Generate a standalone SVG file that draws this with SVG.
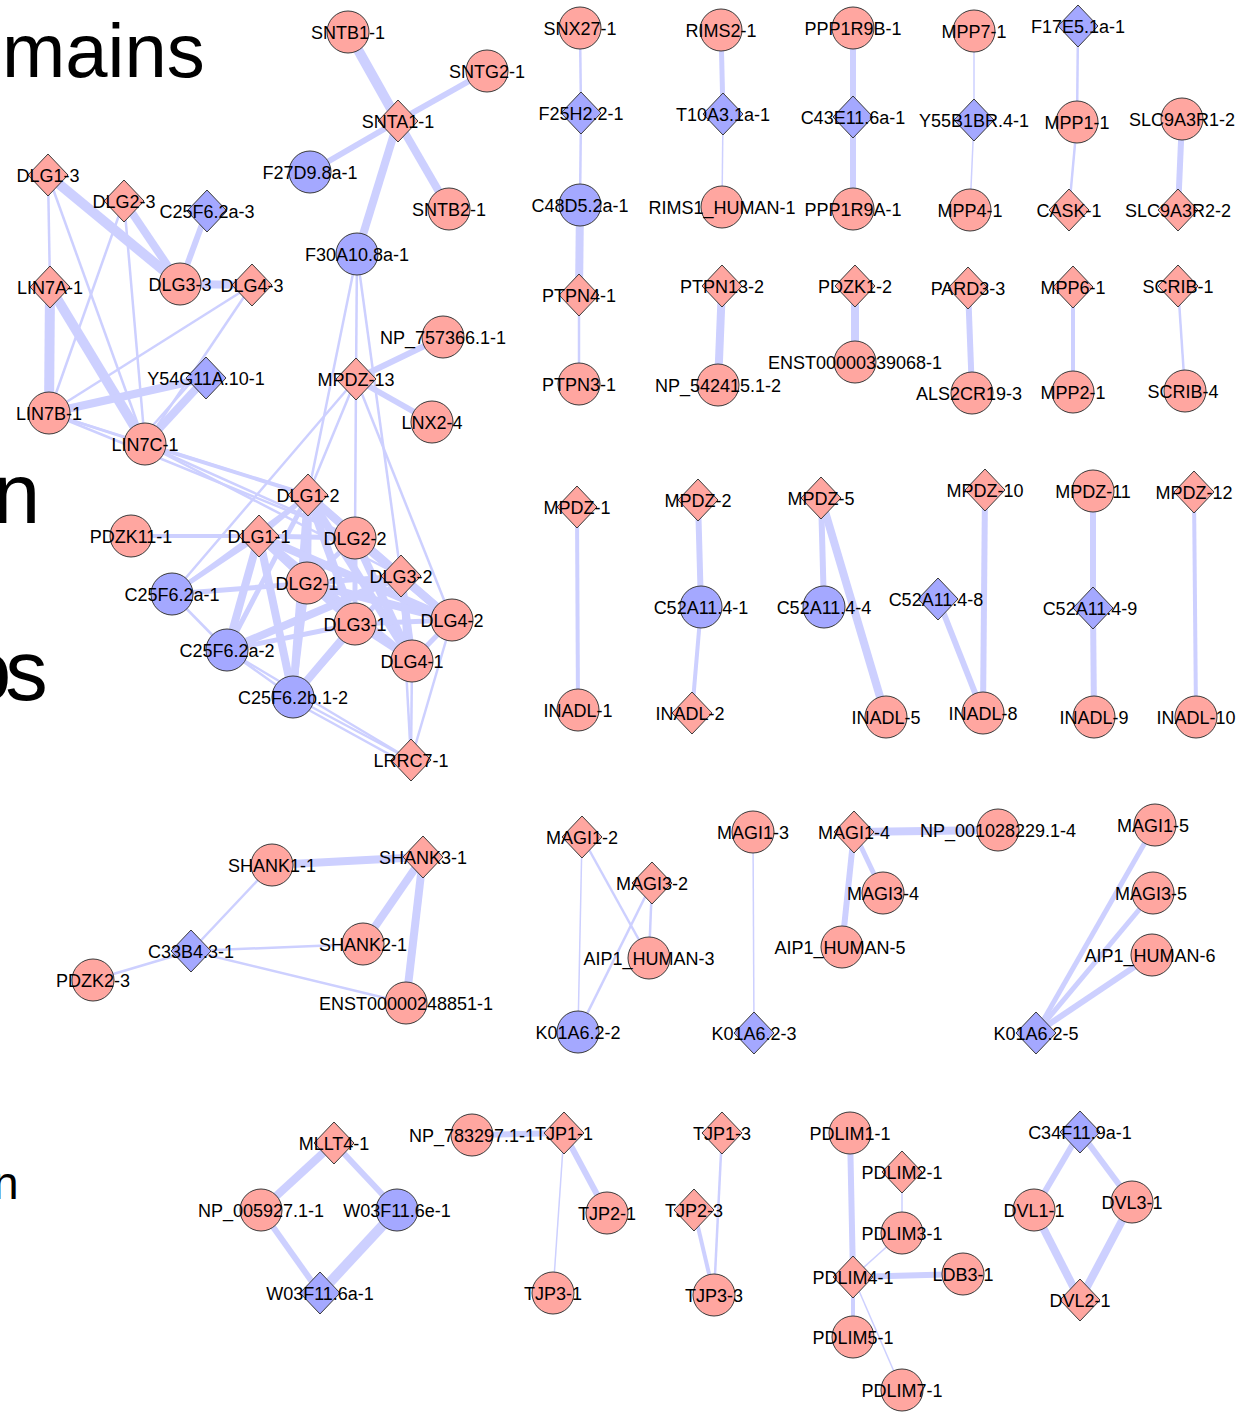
<svg xmlns="http://www.w3.org/2000/svg" xmlns:xlink="http://www.w3.org/1999/xlink" width="1247" height="1413" viewBox="0 0 1247 1413">
<style>
.e line{stroke:#CDD0FF;stroke-linecap:butt;fill:none}
.w1{stroke-width:1.5}.w2{stroke-width:2.5}.w4{stroke-width:4}.w5{stroke-width:5}.w6{stroke-width:6}.w8{stroke-width:8}.w10{stroke-width:10}
.p{fill:#FFA6A0;stroke:#3a3a3a;stroke-width:1}
.b{fill:#A4A8FF;stroke:#3a3a3a;stroke-width:1}
.n text{font-family:"Liberation Sans",Arial,sans-serif;font-size:18px;fill:#000;text-anchor:middle}
.big{font-family:"Liberation Sans",Arial,sans-serif;fill:#000}
</style>
<defs>
<circle id="ci" cx="0" cy="0" r="21"/>
<path id="dm" d="M0,-21 L20,0 L0,21 L-20,0Z"/>
</defs>
<rect width="1247" height="1413" fill="#fff"/>
<text class="big" x="2" y="77" font-size="76">mains</text>
<text class="big" x="-7" y="523" font-size="85">n</text>
<text class="big" x="-36" y="700" font-size="85" letter-spacing="-6">os</text>
<text class="big" x="-7" y="1199" font-size="46">n</text>
<g id="connectors" class="e">
<!-- top-left cluster -->
<line class="w10" x1="348" y1="32" x2="398" y2="121"/>
<line class="w6" x1="487" y1="71" x2="398" y2="121"/>
<line class="w6" x1="398" y1="121" x2="310" y2="172"/>
<line class="w8" x1="398" y1="121" x2="449" y2="209"/>
<line class="w8" x1="398" y1="121" x2="357" y2="254"/>
<line class="w2" x1="357" y1="254" x2="356" y2="379"/>
<line class="w2" x1="357" y1="254" x2="308" y2="495"/>
<line class="w2" x1="357" y1="254" x2="401" y2="576"/>
<line class="w6" x1="356" y1="379" x2="443" y2="337"/>
<line class="w6" x1="356" y1="379" x2="432" y2="422"/>
<line class="w2" x1="356" y1="379" x2="355" y2="538"/>
<line class="w2" x1="356" y1="379" x2="172" y2="594"/>
<line class="w2" x1="356" y1="379" x2="452" y2="620"/>
<line class="w2" x1="356" y1="379" x2="308" y2="495"/>
<line class="w2" x1="48" y1="175" x2="50" y2="287"/>
<line class="w10" x1="48" y1="175" x2="180" y2="284"/>
<line class="w2" x1="48" y1="175" x2="145" y2="444"/>
<line class="w8" x1="124" y1="201" x2="180" y2="284"/>
<line class="w2" x1="124" y1="201" x2="49" y2="413"/>
<line class="w2" x1="124" y1="201" x2="145" y2="444"/>
<line class="w6" x1="207" y1="211" x2="180" y2="284"/>
<line class="w8" x1="180" y1="284" x2="252" y2="285"/>
<line class="w2" x1="252" y1="285" x2="49" y2="413"/>
<line class="w2" x1="252" y1="285" x2="145" y2="444"/>
<line class="w10" x1="50" y1="287" x2="49" y2="413"/>
<line class="w10" x1="50" y1="287" x2="145" y2="444"/>
<line class="w8" x1="206" y1="378" x2="49" y2="413"/>
<line class="w8" x1="206" y1="378" x2="145" y2="444"/>
<line class="w2" x1="200" y1="372" x2="140" y2="440"/>
<line class="w2" x1="49" y1="413" x2="145" y2="444"/>
<line class="w4" x1="145" y1="444" x2="308" y2="495"/>
<line class="w2" x1="145" y1="444" x2="355" y2="538"/>
<line class="w2" x1="145" y1="444" x2="401" y2="576"/>
<line class="w2" x1="49" y1="413" x2="308" y2="495"/>
<line class="w2" x1="49" y1="413" x2="355" y2="538"/>
<!-- DLG cluster -->
<line class="w4" x1="131" y1="536" x2="259" y2="536"/>
<line class="w8" x1="308" y1="495" x2="307" y2="583"/>
<line class="w8" x1="308" y1="495" x2="355" y2="624"/>
<line class="w8" x1="308" y1="495" x2="401" y2="576"/>
<line class="w8" x1="308" y1="495" x2="412" y2="661"/>
<line class="w8" x1="259" y1="536" x2="227" y2="650"/>
<line class="w8" x1="259" y1="536" x2="293" y2="697"/>
<line class="w8" x1="259" y1="536" x2="355" y2="624"/>
<line class="w8" x1="259" y1="536" x2="412" y2="661"/>
<line class="w8" x1="307" y1="583" x2="452" y2="620"/>
<line class="w8" x1="355" y1="538" x2="412" y2="661"/>
<line class="w8" x1="355" y1="538" x2="452" y2="620"/>
<line class="w8" x1="355" y1="624" x2="293" y2="697"/>
<line class="w8" x1="227" y1="650" x2="401" y2="576"/>
<line class="w8" x1="401" y1="576" x2="412" y2="661"/>
<line class="w8" x1="401" y1="576" x2="452" y2="620"/>
<line class="w8" x1="308" y1="495" x2="293" y2="697"/>
<line class="w8" x1="259" y1="536" x2="452" y2="620"/>
<line class="w8" x1="308" y1="495" x2="452" y2="620"/>
<line class="w5" x1="259" y1="536" x2="172" y2="594"/>
<line class="w5" x1="172" y1="594" x2="401" y2="576"/>
<line class="w5" x1="259" y1="536" x2="308" y2="495"/>
<line class="w5" x1="259" y1="536" x2="355" y2="538"/>
<line class="w5" x1="308" y1="495" x2="355" y2="538"/>
<line class="w5" x1="307" y1="583" x2="412" y2="661"/>
<line class="w5" x1="307" y1="583" x2="355" y2="624"/>
<line class="w5" x1="355" y1="624" x2="452" y2="620"/>
<line class="w5" x1="355" y1="624" x2="412" y2="661"/>
<line class="w5" x1="412" y1="661" x2="452" y2="620"/>
<line class="w5" x1="355" y1="538" x2="401" y2="576"/>
<line class="w5" x1="293" y1="697" x2="401" y2="576"/>
<line class="w5" x1="259" y1="536" x2="307" y2="583"/>
<line class="w5" x1="307" y1="583" x2="355" y2="538"/>
<line class="w5" x1="308" y1="495" x2="227" y2="650"/>
<line class="w5" x1="355" y1="538" x2="355" y2="624"/>
<line class="w5" x1="227" y1="650" x2="355" y2="624"/>
<line class="w5" x1="293" y1="697" x2="307" y2="583"/>
<line class="w2" x1="172" y1="594" x2="308" y2="495"/>
<line class="w2" x1="172" y1="594" x2="227" y2="650"/>
<line class="w2" x1="227" y1="650" x2="293" y2="697"/>
<line class="w2" x1="227" y1="650" x2="411" y2="760"/>
<line class="w2" x1="293" y1="697" x2="411" y2="760"/>
<line class="w2" x1="296" y1="703" x2="407" y2="764"/>
<line class="w2" x1="401" y1="576" x2="411" y2="760"/>
<line class="w2" x1="452" y1="620" x2="411" y2="760"/>
<line class="w2" x1="412" y1="661" x2="411" y2="760"/>
<!-- top right columns -->
<line class="w2" x1="580" y1="28" x2="581" y2="113"/>
<line class="w2" x1="581" y1="113" x2="580" y2="205"/>
<line class="w8" x1="580" y1="205" x2="579" y2="295"/>
<line class="w2" x1="579" y1="295" x2="579" y2="384"/>
<line class="w5" x1="721" y1="30" x2="723" y2="114"/>
<line class="w1" x1="723" y1="114" x2="722" y2="207"/>
<line class="w6" x1="853" y1="28" x2="853" y2="117"/>
<line class="w6" x1="853" y1="117" x2="853" y2="209"/>
<line class="w1" x1="974" y1="31" x2="974" y2="120"/>
<line class="w1" x1="974" y1="120" x2="970" y2="210"/>
<line class="w2" x1="1078" y1="26" x2="1077" y2="122"/>
<line class="w2" x1="1077" y1="122" x2="1069" y2="210"/>
<line class="w6" x1="1182" y1="119" x2="1178" y2="210"/>
<line class="w8" x1="722" y1="286" x2="718" y2="385"/>
<line class="w8" x1="855" y1="286" x2="855" y2="362"/>
<line class="w6" x1="968" y1="288" x2="972" y2="393"/>
<line class="w4" x1="1073" y1="287" x2="1073" y2="392"/>
<line class="w2" x1="1178" y1="286" x2="1185" y2="391"/>
<!-- MPDZ / INADL -->
<line class="w4" x1="577" y1="507" x2="578" y2="710"/>
<line class="w6" x1="698" y1="500" x2="701" y2="607"/>
<line class="w4" x1="701" y1="607" x2="692" y2="713"/>
<line class="w6" x1="821" y1="498" x2="824" y2="607"/>
<line class="w8" x1="821" y1="498" x2="886" y2="717"/>
<line class="w6" x1="938" y1="599" x2="983" y2="713"/>
<line class="w6" x1="985" y1="490" x2="983" y2="713"/>
<line class="w6" x1="1093" y1="491" x2="1093" y2="608"/>
<line class="w6" x1="1093" y1="608" x2="1094" y2="717"/>
<line class="w4" x1="1194" y1="492" x2="1196" y2="717"/>
<!-- SHANK -->
<line class="w8" x1="272" y1="865" x2="423" y2="857"/>
<line class="w8" x1="423" y1="857" x2="363" y2="944"/>
<line class="w8" x1="423" y1="857" x2="406" y2="1003"/>
<line class="w2" x1="191" y1="951" x2="272" y2="865"/>
<line class="w2" x1="191" y1="951" x2="363" y2="944"/>
<line class="w2" x1="191" y1="951" x2="406" y2="1003"/>
<line class="w2" x1="191" y1="951" x2="93" y2="980"/>
<!-- MAGI -->
<line class="w1" x1="582" y1="837" x2="578" y2="1032"/>
<line class="w2" x1="582" y1="837" x2="649" y2="958"/>
<line class="w2" x1="652" y1="883" x2="649" y2="958"/>
<line class="w2" x1="652" y1="883" x2="578" y2="1032"/>
<line class="w1" x1="753" y1="832" x2="754" y2="1033"/>
<line class="w8" x1="854" y1="832" x2="998" y2="830"/>
<line class="w5" x1="854" y1="832" x2="883" y2="893"/>
<line class="w6" x1="854" y1="832" x2="842" y2="947"/>
<line class="w5" x1="1036" y1="1033" x2="1155" y2="825"/>
<line class="w5" x1="1036" y1="1033" x2="1153" y2="893"/>
<line class="w6" x1="1036" y1="1033" x2="1152" y2="955"/>
<!-- bottom -->
<line class="w8" x1="334" y1="1143" x2="261" y2="1210"/>
<line class="w6" x1="334" y1="1143" x2="397" y2="1210"/>
<line class="w6" x1="261" y1="1210" x2="320" y2="1293"/>
<line class="w10" x1="397" y1="1210" x2="320" y2="1293"/>
<line class="w6" x1="472" y1="1135" x2="564" y2="1133"/>
<line class="w6" x1="564" y1="1133" x2="607" y2="1213"/>
<line class="w1" x1="564" y1="1133" x2="553" y2="1293"/>
<line class="w2" x1="722" y1="1133" x2="714" y2="1295"/>
<line class="w4" x1="694" y1="1210" x2="714" y2="1295"/>
<line class="w6" x1="850" y1="1133" x2="853" y2="1277"/>
<line class="w1" x1="902" y1="1172" x2="902" y2="1233"/>
<line class="w1" x1="902" y1="1233" x2="853" y2="1277"/>
<line class="w6" x1="853" y1="1277" x2="963" y2="1274"/>
<line class="w4" x1="853" y1="1277" x2="853" y2="1337"/>
<line class="w1" x1="853" y1="1277" x2="902" y2="1390"/>
<line class="w6" x1="1080" y1="1132" x2="1034" y2="1210"/>
<line class="w6" x1="1080" y1="1132" x2="1132" y2="1202"/>
<line class="w8" x1="1034" y1="1210" x2="1080" y2="1300"/>
<line class="w8" x1="1132" y1="1202" x2="1080" y2="1300"/>
</g>
<g id="nodes" class="n">
<g id="SNTB1-1"><use href="#ci" x="348" y="32" class="p"/><text x="348" y="39">SNTB1-1</text></g>
<g id="SNTG2-1"><use href="#ci" x="487" y="71" class="p"/><text x="487" y="78">SNTG2-1</text></g>
<g id="SNTA1-1"><use href="#dm" x="398" y="121" class="p"/><text x="398" y="128">SNTA1-1</text></g>
<g id="F27D9.8a-1"><use href="#ci" x="310" y="172" class="b"/><text x="310" y="179">F27D9.8a-1</text></g>
<g id="SNTB2-1"><use href="#ci" x="449" y="209" class="p"/><text x="449" y="216">SNTB2-1</text></g>
<g id="F30A10.8a-1"><use href="#ci" x="357" y="254" class="b"/><text x="357" y="261">F30A10.8a-1</text></g>
<g id="NP_757366.1-1"><use href="#ci" x="443" y="337" class="p"/><text x="443" y="344">NP_757366.1-1</text></g>
<g id="MPDZ-13"><use href="#dm" x="356" y="379" class="p"/><text x="356" y="386">MPDZ-13</text></g>
<g id="LNX2-4"><use href="#ci" x="432" y="422" class="p"/><text x="432" y="429">LNX2-4</text></g>
<g id="DLG1-3"><use href="#dm" x="48" y="175" class="p"/><text x="48" y="182">DLG1-3</text></g>
<g id="DLG2-3"><use href="#dm" x="124" y="201" class="p"/><text x="124" y="208">DLG2-3</text></g>
<g id="C25F6.2a-3"><use href="#dm" x="207" y="211" class="b"/><text x="207" y="218">C25F6.2a-3</text></g>
<g id="DLG3-3"><use href="#ci" x="180" y="284" class="p"/><text x="180" y="291">DLG3-3</text></g>
<g id="DLG4-3"><use href="#dm" x="252" y="285" class="p"/><text x="252" y="292">DLG4-3</text></g>
<g id="LIN7A-1"><use href="#dm" x="50" y="287" class="p"/><text x="50" y="294">LIN7A-1</text></g>
<g id="Y54G11A.10-1"><use href="#dm" x="206" y="378" class="b"/><text x="206" y="385">Y54G11A.10-1</text></g>
<g id="LIN7B-1"><use href="#ci" x="49" y="413" class="p"/><text x="49" y="420">LIN7B-1</text></g>
<g id="LIN7C-1"><use href="#ci" x="145" y="444" class="p"/><text x="145" y="451">LIN7C-1</text></g>
<g id="DLG1-2"><use href="#dm" x="308" y="495" class="p"/><text x="308" y="502">DLG1-2</text></g>
<g id="PDZK11-1"><use href="#ci" x="131" y="536" class="p"/><text x="131" y="543">PDZK11-1</text></g>
<g id="DLG1-1"><use href="#dm" x="259" y="536" class="p"/><text x="259" y="543">DLG1-1</text></g>
<g id="DLG2-2"><use href="#ci" x="355" y="538" class="p"/><text x="355" y="545">DLG2-2</text></g>
<g id="DLG3-2"><use href="#dm" x="401" y="576" class="p"/><text x="401" y="583">DLG3-2</text></g>
<g id="DLG2-1"><use href="#ci" x="307" y="583" class="p"/><text x="307" y="590">DLG2-1</text></g>
<g id="C25F6.2a-1"><use href="#ci" x="172" y="594" class="b"/><text x="172" y="601">C25F6.2a-1</text></g>
<g id="DLG3-1"><use href="#ci" x="355" y="624" class="p"/><text x="355" y="631">DLG3-1</text></g>
<g id="DLG4-2"><use href="#ci" x="452" y="620" class="p"/><text x="452" y="627">DLG4-2</text></g>
<g id="C25F6.2a-2"><use href="#ci" x="227" y="650" class="b"/><text x="227" y="657">C25F6.2a-2</text></g>
<g id="DLG4-1"><use href="#ci" x="412" y="661" class="p"/><text x="412" y="668">DLG4-1</text></g>
<g id="C25F6.2b.1-2"><use href="#ci" x="293" y="697" class="b"/><text x="293" y="704">C25F6.2b.1-2</text></g>
<g id="LRRC7-1"><use href="#dm" x="411" y="760" class="p"/><text x="411" y="767">LRRC7-1</text></g>
<g id="SNX27-1"><use href="#ci" x="580" y="28" class="p"/><text x="580" y="35">SNX27-1</text></g>
<g id="F25H2.2-1"><use href="#dm" x="581" y="113" class="b"/><text x="581" y="120">F25H2.2-1</text></g>
<g id="C48D5.2a-1"><use href="#ci" x="580" y="205" class="b"/><text x="580" y="212">C48D5.2a-1</text></g>
<g id="PTPN4-1"><use href="#dm" x="579" y="295" class="p"/><text x="579" y="302">PTPN4-1</text></g>
<g id="PTPN3-1"><use href="#ci" x="579" y="384" class="p"/><text x="579" y="391">PTPN3-1</text></g>
<g id="RIMS2-1"><use href="#ci" x="721" y="30" class="p"/><text x="721" y="37">RIMS2-1</text></g>
<g id="T10A3.1a-1"><use href="#dm" x="723" y="114" class="b"/><text x="723" y="121">T10A3.1a-1</text></g>
<g id="RIMS1_HUMAN-1"><use href="#ci" x="722" y="207" class="p"/><text x="722" y="214">RIMS1_HUMAN-1</text></g>
<g id="PTPN13-2"><use href="#dm" x="722" y="286" class="p"/><text x="722" y="293">PTPN13-2</text></g>
<g id="NP_542415.1-2"><use href="#ci" x="718" y="385" class="p"/><text x="718" y="392">NP_542415.1-2</text></g>
<g id="PPP1R9B-1"><use href="#ci" x="853" y="28" class="p"/><text x="853" y="35">PPP1R9B-1</text></g>
<g id="C43E11.6a-1"><use href="#dm" x="853" y="117" class="b"/><text x="853" y="124">C43E11.6a-1</text></g>
<g id="PPP1R9A-1"><use href="#ci" x="853" y="209" class="p"/><text x="853" y="216">PPP1R9A-1</text></g>
<g id="PDZK1-2"><use href="#dm" x="855" y="286" class="p"/><text x="855" y="293">PDZK1-2</text></g>
<g id="ENST00000339068-1"><use href="#ci" x="855" y="362" class="p"/><text x="855" y="369">ENST00000339068-1</text></g>
<g id="MPP7-1"><use href="#ci" x="974" y="31" class="p"/><text x="974" y="38">MPP7-1</text></g>
<g id="Y55B1BR.4-1"><use href="#dm" x="974" y="120" class="b"/><text x="974" y="127">Y55B1BR.4-1</text></g>
<g id="MPP4-1"><use href="#ci" x="970" y="210" class="p"/><text x="970" y="217">MPP4-1</text></g>
<g id="PARD3-3"><use href="#dm" x="968" y="288" class="p"/><text x="968" y="295">PARD3-3</text></g>
<g id="ALS2CR19-3"><use href="#ci" x="972" y="393" class="p"/><text x="969" y="400">ALS2CR19-3</text></g>
<g id="F17E5.1a-1"><use href="#dm" x="1078" y="26" class="b"/><text x="1078" y="33">F17E5.1a-1</text></g>
<g id="MPP1-1"><use href="#ci" x="1077" y="122" class="p"/><text x="1077" y="129">MPP1-1</text></g>
<g id="CASK-1"><use href="#dm" x="1069" y="210" class="p"/><text x="1069" y="217">CASK-1</text></g>
<g id="MPP6-1"><use href="#dm" x="1073" y="287" class="p"/><text x="1073" y="294">MPP6-1</text></g>
<g id="MPP2-1"><use href="#ci" x="1073" y="392" class="p"/><text x="1073" y="399">MPP2-1</text></g>
<g id="SLC9A3R1-2"><use href="#ci" x="1182" y="119" class="p"/><text x="1182" y="126">SLC9A3R1-2</text></g>
<g id="SLC9A3R2-2"><use href="#dm" x="1178" y="210" class="p"/><text x="1178" y="217">SLC9A3R2-2</text></g>
<g id="SCRIB-1"><use href="#dm" x="1178" y="286" class="p"/><text x="1178" y="293">SCRIB-1</text></g>
<g id="SCRIB-4"><use href="#ci" x="1185" y="391" class="p"/><text x="1183" y="398">SCRIB-4</text></g>
<g id="MPDZ-1"><use href="#dm" x="577" y="507" class="p"/><text x="577" y="514">MPDZ-1</text></g>
<g id="INADL-1"><use href="#ci" x="578" y="710" class="p"/><text x="578" y="717">INADL-1</text></g>
<g id="MPDZ-2"><use href="#dm" x="698" y="500" class="p"/><text x="698" y="507">MPDZ-2</text></g>
<g id="C52A11.4-1"><use href="#ci" x="701" y="607" class="b"/><text x="701" y="614">C52A11.4-1</text></g>
<g id="INADL-2"><use href="#dm" x="692" y="713" class="p"/><text x="690" y="720">INADL-2</text></g>
<g id="MPDZ-5"><use href="#dm" x="821" y="498" class="p"/><text x="821" y="505">MPDZ-5</text></g>
<g id="C52A11.4-4"><use href="#ci" x="824" y="607" class="b"/><text x="824" y="614">C52A11.4-4</text></g>
<g id="INADL-5"><use href="#ci" x="886" y="717" class="p"/><text x="886" y="724">INADL-5</text></g>
<g id="C52A11.4-8"><use href="#dm" x="938" y="599" class="b"/><text x="936" y="606">C52A11.4-8</text></g>
<g id="MPDZ-10"><use href="#dm" x="985" y="490" class="p"/><text x="985" y="497">MPDZ-10</text></g>
<g id="INADL-8"><use href="#ci" x="983" y="713" class="p"/><text x="983" y="720">INADL-8</text></g>
<g id="MPDZ-11"><use href="#ci" x="1093" y="491" class="p"/><text x="1093" y="498">MPDZ-11</text></g>
<g id="C52A11.4-9"><use href="#dm" x="1093" y="608" class="b"/><text x="1090" y="615">C52A11.4-9</text></g>
<g id="INADL-9"><use href="#ci" x="1094" y="717" class="p"/><text x="1094" y="724">INADL-9</text></g>
<g id="MPDZ-12"><use href="#dm" x="1194" y="492" class="p"/><text x="1194" y="499">MPDZ-12</text></g>
<g id="INADL-10"><use href="#ci" x="1196" y="717" class="p"/><text x="1196" y="724">INADL-10</text></g>
<g id="SHANK1-1"><use href="#ci" x="272" y="865" class="p"/><text x="272" y="872">SHANK1-1</text></g>
<g id="SHANK3-1"><use href="#dm" x="423" y="857" class="p"/><text x="423" y="864">SHANK3-1</text></g>
<g id="SHANK2-1"><use href="#ci" x="363" y="944" class="p"/><text x="363" y="951">SHANK2-1</text></g>
<g id="C33B4.3-1"><use href="#dm" x="191" y="951" class="b"/><text x="191" y="958">C33B4.3-1</text></g>
<g id="PDZK2-3"><use href="#ci" x="93" y="980" class="p"/><text x="93" y="987">PDZK2-3</text></g>
<g id="ENST00000248851-1"><use href="#ci" x="406" y="1003" class="p"/><text x="406" y="1010">ENST00000248851-1</text></g>
<g id="MAGI1-2"><use href="#dm" x="582" y="837" class="p"/><text x="582" y="844">MAGI1-2</text></g>
<g id="MAGI3-2"><use href="#dm" x="652" y="883" class="p"/><text x="652" y="890">MAGI3-2</text></g>
<g id="AIP1_HUMAN-3"><use href="#ci" x="649" y="958" class="p"/><text x="649" y="965">AIP1_HUMAN-3</text></g>
<g id="K01A6.2-2"><use href="#ci" x="578" y="1032" class="b"/><text x="578" y="1039">K01A6.2-2</text></g>
<g id="MAGI1-3"><use href="#ci" x="753" y="832" class="p"/><text x="753" y="839">MAGI1-3</text></g>
<g id="K01A6.2-3"><use href="#dm" x="754" y="1033" class="b"/><text x="754" y="1040">K01A6.2-3</text></g>
<g id="MAGI1-4"><use href="#dm" x="854" y="832" class="p"/><text x="854" y="839">MAGI1-4</text></g>
<g id="NP_001028229.1-4"><use href="#ci" x="998" y="830" class="p"/><text x="998" y="837">NP_001028229.1-4</text></g>
<g id="MAGI3-4"><use href="#ci" x="883" y="893" class="p"/><text x="883" y="900">MAGI3-4</text></g>
<g id="AIP1_HUMAN-5"><use href="#ci" x="842" y="947" class="p"/><text x="840" y="954">AIP1_HUMAN-5</text></g>
<g id="MAGI1-5"><use href="#ci" x="1155" y="825" class="p"/><text x="1153" y="832">MAGI1-5</text></g>
<g id="MAGI3-5"><use href="#ci" x="1153" y="893" class="p"/><text x="1151" y="900">MAGI3-5</text></g>
<g id="AIP1_HUMAN-6"><use href="#ci" x="1152" y="955" class="p"/><text x="1150" y="962">AIP1_HUMAN-6</text></g>
<g id="K01A6.2-5"><use href="#dm" x="1036" y="1033" class="b"/><text x="1036" y="1040">K01A6.2-5</text></g>
<g id="MLLT4-1"><use href="#dm" x="334" y="1143" class="p"/><text x="334" y="1150">MLLT4-1</text></g>
<g id="NP_005927.1-1"><use href="#ci" x="261" y="1210" class="p"/><text x="261" y="1217">NP_005927.1-1</text></g>
<g id="W03F11.6e-1"><use href="#ci" x="397" y="1210" class="b"/><text x="397" y="1217">W03F11.6e-1</text></g>
<g id="W03F11.6a-1"><use href="#dm" x="320" y="1293" class="b"/><text x="320" y="1300">W03F11.6a-1</text></g>
<g id="NP_783297.1-1"><use href="#ci" x="472" y="1135" class="p"/><text x="472" y="1142">NP_783297.1-1</text></g>
<g id="TJP1-1"><use href="#dm" x="564" y="1133" class="p"/><text x="564" y="1140">TJP1-1</text></g>
<g id="TJP2-1"><use href="#ci" x="607" y="1213" class="p"/><text x="607" y="1220">TJP2-1</text></g>
<g id="TJP3-1"><use href="#ci" x="553" y="1293" class="p"/><text x="553" y="1300">TJP3-1</text></g>
<g id="TJP1-3"><use href="#dm" x="722" y="1133" class="p"/><text x="722" y="1140">TJP1-3</text></g>
<g id="TJP2-3"><use href="#dm" x="694" y="1210" class="p"/><text x="694" y="1217">TJP2-3</text></g>
<g id="TJP3-3"><use href="#ci" x="714" y="1295" class="p"/><text x="714" y="1302">TJP3-3</text></g>
<g id="PDLIM1-1"><use href="#ci" x="850" y="1133" class="p"/><text x="850" y="1140">PDLIM1-1</text></g>
<g id="PDLIM2-1"><use href="#dm" x="902" y="1172" class="p"/><text x="902" y="1179">PDLIM2-1</text></g>
<g id="PDLIM3-1"><use href="#ci" x="902" y="1233" class="p"/><text x="902" y="1240">PDLIM3-1</text></g>
<g id="PDLIM4-1"><use href="#dm" x="853" y="1277" class="p"/><text x="853" y="1284">PDLIM4-1</text></g>
<g id="LDB3-1"><use href="#ci" x="963" y="1274" class="p"/><text x="963" y="1281">LDB3-1</text></g>
<g id="PDLIM5-1"><use href="#ci" x="853" y="1337" class="p"/><text x="853" y="1344">PDLIM5-1</text></g>
<g id="PDLIM7-1"><use href="#ci" x="902" y="1390" class="p"/><text x="902" y="1397">PDLIM7-1</text></g>
<g id="C34F11.9a-1"><use href="#dm" x="1080" y="1132" class="b"/><text x="1080" y="1139">C34F11.9a-1</text></g>
<g id="DVL1-1"><use href="#ci" x="1034" y="1210" class="p"/><text x="1034" y="1217">DVL1-1</text></g>
<g id="DVL3-1"><use href="#ci" x="1132" y="1202" class="p"/><text x="1132" y="1209">DVL3-1</text></g>
<g id="DVL2-1"><use href="#dm" x="1080" y="1300" class="p"/><text x="1080" y="1307">DVL2-1</text></g>
</g>
</svg>
